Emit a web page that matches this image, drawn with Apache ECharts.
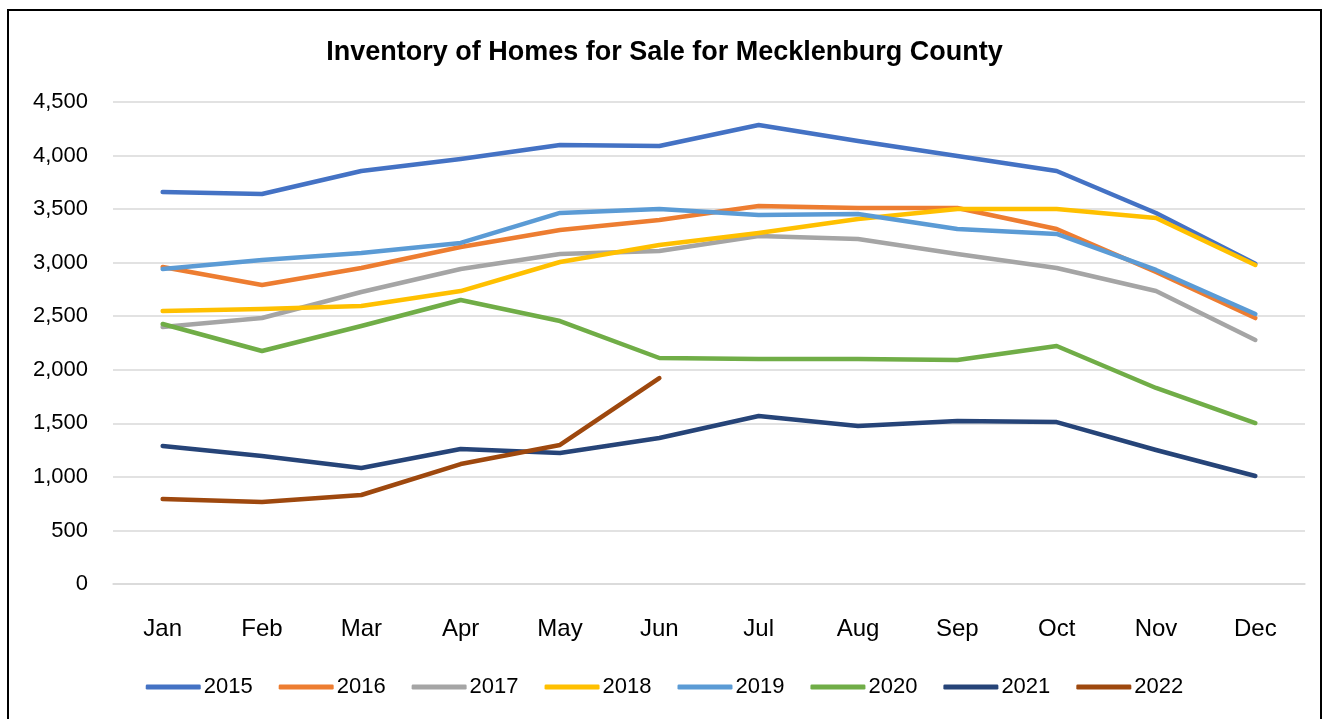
<!DOCTYPE html>
<html>
<head>
<meta charset="utf-8">
<script src="https://cdn.jsdelivr.net/npm/echarts@6/dist/echarts.min.js"></script>
<style>
html,body{margin:0;padding:0;background:#fff;}
#chart{width:1329px;height:719px;}
</style>
</head>
<body>
<div id="chart"></div>
<script>
var months = ['Jan','Feb','Mar','Apr','May','Jun','Jul','Aug','Sep','Oct','Nov','Dec'];
var years = ['2015','2016','2017','2018','2019','2020','2021','2022'];
var s2015 = [3660,3641,3856,3968,4099,4089,4285,4136,3996,3856,3464,2990];
var s2016 = [2960,2791,2950,3146,3305,3398,3529,3510,3510,3314,2913,2483];
var s2017 = [2399,2483,2726,2941,3081,3109,3249,3221,3081,2950,2735,2278];
var s2018 = [2549,2567,2595,2735,3006,3165,3277,3408,3501,3501,3417,2978];
var s2019 = [2941,3025,3090,3184,3464,3501,3445,3454,3314,3268,2932,2521];
var s2020 = [2427,2175,2409,2651,2455,2110,2100,2100,2091,2222,1830,1503];
var s2021 = [1288,1195,1083,1260,1223,1363,1568,1475,1522,1512,1251,1008];
var s2022 = [794,766,831,1120,1298,1923];
var seriesData = [s2015,s2016,s2017,s2018,s2019,s2020,s2021,s2022];
var colors = ['#4472C4','#ED7D31','#A5A5A5','#FFC000','#5B9BD5','#70AD47','#264478','#9E480E'];

var chart = echarts.init(document.getElementById('chart'));
var series = years.map(function(y,i){
  return {
    name: y, type: 'line', data: seriesData[i], symbol: 'none',
    lineStyle: {width: 4.5, color: colors[i], cap: 'round', join: 'round'},
    itemStyle: {color: colors[i]}
  };
});
var font = 'Liberation Sans, Arial, sans-serif';
chart.setOption({
  animation: false,
  color: colors,
  title: {
    text: 'Inventory of Homes for Sale for Mecklenburg County',
    left: 'center', top: 34,
    textStyle: {fontFamily: font, fontWeight: 'bold', fontSize: 27, color: '#000'}
  },
  grid: {left: 113, right: 24, top: 102, bottom: 135},
  legend: {
    bottom: 16, left: 'center', itemWidth: 55, itemHeight: 5, itemGap: 26,
    icon: 'roundRect',
    textStyle: {fontFamily: font, fontSize: 22, color: '#000', padding: [0,0,0,-2]},
    data: years
  },
  xAxis: {
    type: 'category', data: months, boundaryGap: true,
    axisLine: {show: true, lineStyle: {color: '#d9d9d9', width: 1.5}},
    axisTick: {show: false},
    axisLabel: {margin: 33, fontFamily: font, fontSize: 24, color: '#000'}
  },
  yAxis: {
    type: 'value', min: 0, max: 4500, interval: 500,
    axisLine: {show: false}, axisTick: {show: false},
    splitLine: {lineStyle: {color: '#d9d9d9', width: 1.5}},
    axisLabel: {margin: 25, fontFamily: font, fontSize: 22, color: '#000',
      formatter: function(v){ return v.toLocaleString('en-US'); }}
  },
  graphic: [{
    type: 'rect', shape: {x: 8, y: 10, width: 1313, height: 730},
    style: {fill: 'none', stroke: '#000', lineWidth: 2}, silent: true
  }],
  series: series
});
</script>
</body>
</html>
